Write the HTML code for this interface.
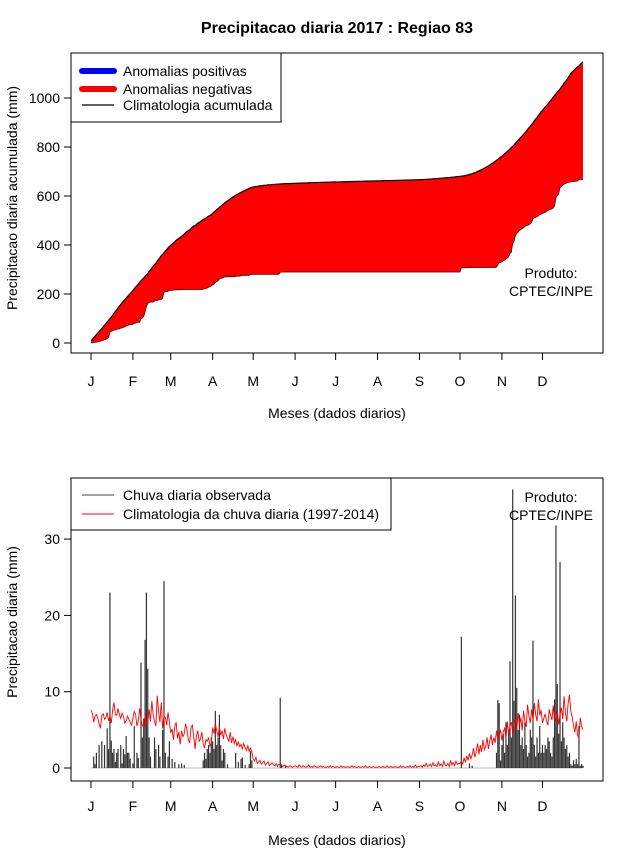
<!DOCTYPE html>
<html><head><meta charset="utf-8"><style>
body{margin:0;background:#fff}
svg{display:block;font-family:"Liberation Sans",sans-serif}
</style></head><body>
<svg id="c" width="640" height="850" viewBox="0 0 640 850">
<text x="337" y="33" font-size="16" font-weight="bold" text-anchor="middle">Precipitacao diaria 2017 : Regiao 83</text>
<g id="top"></g>
<g id="bot"></g>
</svg>
<script>
const monthLabels=["J","F","M","A","M","J","J","A","S","O","N","D"];
const monthStartDays=[1,32,60,91,121,152,182,213,244,274,305,335];
const topTicks=[0,200,400,600,800,1000];
const botTicks=[0,10,20,30];
const climJan=[7.6,7.2,6.0,6.8,7.0,6.5,5.8,5.2,6.9,7.1,6.4,6.6,7.3,6.2,6.8,5.9,7.6,8.6,7.0,6.9,7.8,7.0,6.5,7.2,6.8,5.9,6.2,6.8,6.4,6.0,5.6];
const climFeb=[6.5,7.4,7.0,5.5,6.2,7.8,6.4,5.6,5.3,6.9,5.8,5.9,7.7,6.1,8.8,7.0,6.1,5.5,9.5,7.4,6.0,8.6,5.2,6.8,6.6,5.6,7.3,6.0];
const climMar=[4.6,5.1,3.7,5.5,6.0,3.9,4.7,3.1,4.9,4.1,4.5,5.8,5.0,3.7,3.3,5.3,5.6,4.1,2.5,4.2,4.9,3.5,3.8,4.7,3.2,2.6,3.7,3.5,4.0,2.9,3.3];
const climApr=[5.3,4.5,5.8,4.9,4.1,5.4,4.3,4.9,3.8,5.2,4.4,3.9,3.5,4.7,3.3,4.1,3.2,3.7,2.9,3.4,2.8,3.1,2.5,3.2,2.7,2.3,2.9,2.2,2.6,2.1];
const climMay=[1.2,0.9,1.4,0.6,0.8,1.0,0.5,0.7,0.9,0.4,0.6,0.8,0.3,0.5,0.7,0.4,0.3,0.6,0.2,0.5,0.4,0.3,0.2,0.4,0.3,0.2,0.1,0.3,0.2,0.1,0.2];
const climJun=[0.3,0.2,0.1,0.4,0.2,0.1,0.3,0.2,0.1,0.2,0.4,0.1,0.2,0.1,0.3,0.2,0.1,0.1,0.2,0.3,0.1,0.2,0.1,0.1,0.2,0.1,0.3,0.1,0.2,0.1];
const climJul=[0.1,0.2,0.1,0.1,0.3,0.1,0.2,0.1,0.1,0.2,0.1,0.1,0.3,0.1,0.2,0.1,0.1,0.2,0.1,0.1,0.2,0.1,0.3,0.1,0.1,0.2,0.1,0.1,0.2,0.1,0.1];
const climAug=[0.1,0.2,0.1,0.1,0.2,0.1,0.1,0.3,0.1,0.1,0.2,0.1,0.1,0.2,0.1,0.1,0.1,0.3,0.1,0.2,0.1,0.1,0.2,0.1,0.3,0.1,0.2,0.1,0.4,0.1,0.2];
const climSep=[0.2,0.3,0.1,0.4,0.2,0.6,0.2,0.3,0.5,0.2,0.7,0.3,0.4,0.2,0.8,0.3,0.5,0.2,0.9,0.4,0.3,0.6,0.2,1.0,0.4,0.7,0.3,0.9,0.5,0.6];
const climOct=[0.6,0.9,0.5,1.3,0.8,1.6,1.0,1.9,1.2,1.7,2.6,1.4,2.2,3.2,1.8,3.0,2.1,3.7,2.4,2.8,4.0,2.5,3.5,4.4,3.0,4.0,3.3,4.9,3.6,4.3,5.0];
const climNov=[3.6,4.8,5.2,3.9,6.1,4.4,5.5,6.0,4.6,5.8,6.4,5.0,7.2,5.6,6.6,4.9,7.5,6.2,5.4,8.3,6.8,5.9,7.7,6.3,8.5,7.0,6.1,9.0,6.9,7.6];
const climDec=[5.9,6.5,7.1,6.2,5.6,7.7,6.9,6.3,8.2,6.0,6.8,7.5,5.7,7.0,7.9,6.4,9.4,7.2,6.1,8.5,9.6,7.4,6.7,5.5,4.7,6.1,4.3,3.9,6.6,5.4,5.0];
const obsDays=[3,4,5,7,9,11,13,14,15,16,17,18,19,20,21,23,24,25,26,27,28,29,30,32,33,35,36,38,39,40,41,42,43,44,45,48,49,51,52,54,55,56,58,59,61,63,66,68,70,84,85,86,87,88,89,90,91,92,93,94,95,96,97,98,99,100,102,108,110,112,113,115,118,119,120,141,142,145,275,281,283,
301,302,303,304,305,306,307,308,309,310,311,312,313,314,315,316,317,318,319,320,321,322,323,324,325,326,327,328,329,330,331,332,333,334,335,336,337,338,339,340,341,342,343,344,345,346,347,348,349,350,351,352,353,354,355,356,357,358,359,360,361,362,363,364,365];
const obsVals=[1.5,0.5,2,3,3.5,3,5.2,2.5,23,3.6,2,2.5,0.8,2,2.5,3,0.6,2.5,1.8,4.2,2,2,1.2,0.6,5.5,2,1.3,13.8,4,6.5,16.8,23,13,4,1.5,4,2.5,3,1.5,5,24.5,2,1.5,3.5,1.2,0.8,0.5,0.6,0.4,1,2,1.2,2.5,3,2,4,3.5,2.5,7.5,3,4,7,3,1,2.5,2,0.5,2,0.8,1.2,1.4,0.4,0.5,2.2,1,9.2,0.5,0.3,17.2,0.6,0.3,
2,8.9,8.5,1,3,4.5,2,6,3,5,14,4,36.5,8.8,22.6,10.5,5,7,3,4,2.5,6,3,1.5,2,5,4,16.7,3,1.5,4,2,5.5,2,3,2,3,2.5,4,3.5,2,1.5,4,9,31.8,11,4.5,27,3.5,6,4,2.5,3,1.5,2,0.5,0.3,1,0.5,1.2,0.5,5.5,0.3,0.5,0.3];

const NS="http://www.w3.org/2000/svg";
function mk(p,t,a){const e=document.createElementNS(NS,t);for(const k in a)e.setAttribute(k,a[k]);p.appendChild(e);return e;}
const clim=[].concat(climJan,climFeb,climMar,climApr,climMay,climJun,climJul,climAug,climSep,climOct,climNov,climDec);
const N=clim.length;
const obs=new Array(N).fill(0);
obsDays.forEach((d,i)=>{obs[d-1]=obsVals[i];});
const xS=d=>91+(d-1)*(583-91)/364;
const yTop=v=>343-v*0.245;
const yBot=v=>768-v*7.63;
let cc=[],co=[],a=0,b=0;
for(let i=0;i<N;i++){a+=clim[i];b+=obs[i];cc.push(a);co.push(b);}

function axes(g,top,bottom,yS,ticks,xLabY,xTitleY,yTitle,yTitleY){
  const box=mk(g,"rect",{x:71,y:top,width:532,height:bottom-top,fill:"none",stroke:"#000","stroke-width":1});
  
  
  monthStartDays.forEach((d,i)=>{
    const x=xS(d);
    mk(g,"line",{x1:x,y1:bottom,x2:x,y2:bottom+7,stroke:"#000"});
    const t=mk(g,"text",{x:x,y:xLabY,"font-size":14,"text-anchor":"middle"});t.textContent=monthLabels[i];
    
    
  });
  mk(g,"line",{x1:xS(1),y1:bottom,x2:xS(335),y2:bottom,stroke:"#000"});
  ticks.forEach(v=>{
    const y=yS(v);
    mk(g,"line",{x1:64,y1:y,x2:71,y2:y,stroke:"#000"});
    const t=mk(g,"text",{x:60,y:y+5,"font-size":14,"text-anchor":"end"});t.textContent=v;
    
    
  });
  const xt=mk(g,"text",{x:337,y:xTitleY,"font-size":14,"text-anchor":"middle"});xt.textContent="Meses (dados diarios)";
  
  
  const yt=mk(g,"text",{x:0,y:0,"font-size":14,"text-anchor":"middle",transform:`translate(17,${yTitleY}) rotate(-90)`});yt.textContent=yTitle;
  
  
}
function produto(g,y){
  const t1=mk(g,"text",{x:551,y:y,"font-size":14,"text-anchor":"middle"});t1.textContent="Produto:";
  
  
  const t2=mk(g,"text",{x:551,y:y+18,"font-size":14,"text-anchor":"middle"});t2.textContent="CPTEC/INPE";
  
  
}
const G=document.getElementById("top");
let pts=[];
for(let i=0;i<N;i++)pts.push(xS(i+1)+","+yTop(cc[i]));
for(let i=N-1;i>=0;i--)pts.push(xS(i+1)+","+yTop(co[i]));
const area=mk(G,"polygon",{points:pts.join(" "),fill:"#ff0000",stroke:"none"});


const lc=mk(G,"polyline",{points:cc.map((v,i)=>xS(i+1)+","+yTop(v)).join(" "),fill:"none",stroke:"#000","stroke-width":1.2});


const lo=mk(G,"polyline",{points:co.map((v,i)=>xS(i+1)+","+yTop(v)).join(" "),fill:"none",stroke:"#000","stroke-width":0.6});


axes(G,53,353,yTop,topTicks,386,418,"Precipitacao diaria acumulada (mm)",198);
produto(G,278);
const lg=mk(G,"g",{});


mk(lg,"rect",{x:71,y:53,width:210,height:69,fill:"#fff",stroke:"#000"});
[["#0000ff",6,"Anomalias positivas",71],["#ff0000",6,"Anomalias negativas",89],["#000",1.2,"Climatologia acumulada",105]].forEach(e=>{
  mk(lg,"line",{x1:82,y1:e[3],x2:114,y2:e[3],stroke:e[0],"stroke-width":e[1],"stroke-linecap":e[1]>2?"round":"butt"});
  const t=mk(lg,"text",{x:123,y:e[3]+5,"font-size":14});t.textContent=e[2];
  
  
});
const B=document.getElementById("bot");
mk(B,"line",{x1:xS(1),y1:yBot(0),x2:xS(N),y2:yBot(0),stroke:"#bbb","stroke-width":1});
for(let i=0;i<N;i++){ if(obs[i]<=0)continue;
  const l=mk(B,"line",{x1:xS(i+1),y1:yBot(0),x2:xS(i+1),y2:yBot(obs[i]),stroke:"#333","stroke-width":1.2});
  
  
}
const cl=mk(B,"polyline",{points:clim.map((v,i)=>xS(i+1)+","+yBot(v)).join(" "),fill:"none",stroke:"#ff0000","stroke-width":0.9});


axes(B,478,781,yBot,botTicks,811,845,"Precipitacao diaria (mm)",622);
produto(B,502);
const lg2=mk(B,"g",{});


mk(lg2,"rect",{x:71,y:478,width:320,height:52,fill:"#fff",stroke:"#000"});
[["#444","Chuva diaria observada",495],["#ff0000","Climatologia da chuva diaria (1997-2014)",514]].forEach(e=>{
  mk(lg2,"line",{x1:82,y1:e[2],x2:114,y2:e[2],stroke:e[0],"stroke-width":1});
  const t=mk(lg2,"text",{x:123,y:e[2]+5,"font-size":14});t.textContent=e[1];
  
  
});
</script>
</body></html>
